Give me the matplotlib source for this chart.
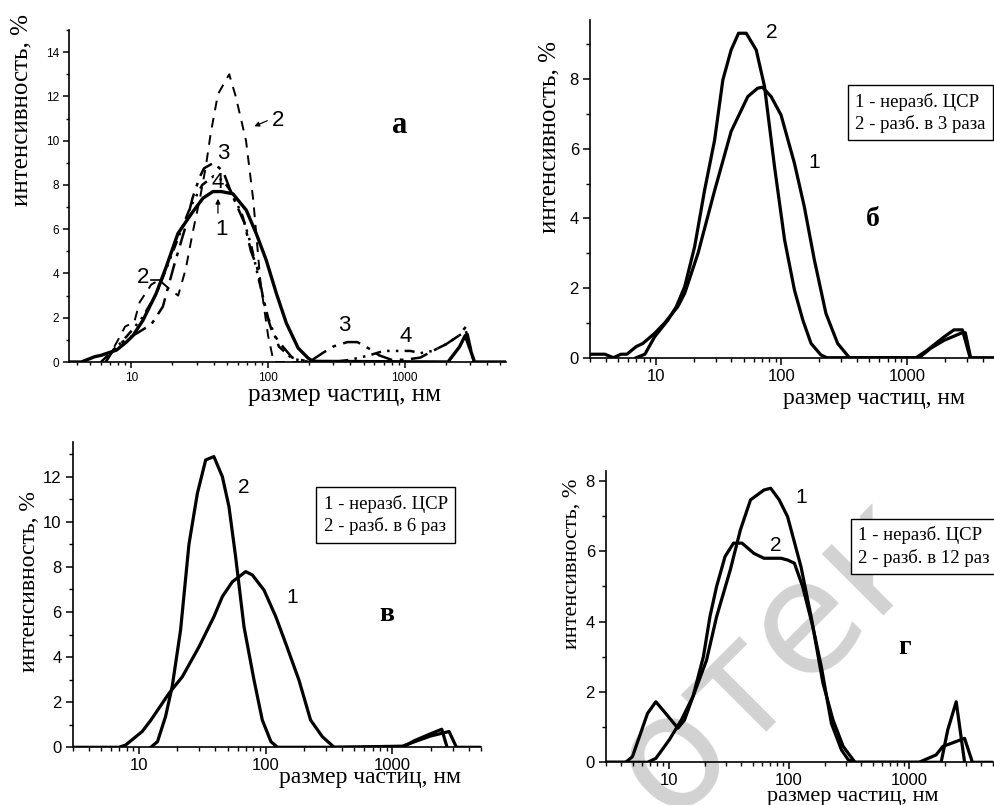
import matplotlib
matplotlib.use("Agg")
import matplotlib.pyplot as plt
from matplotlib.ticker import MultipleLocator, LogLocator, FuncFormatter, NullFormatter

# ---------------- data ----------------
# panel a
a1_x = [3.5, 4.3, 5.4, 6.0, 7.8, 9.2, 10.3, 12.2, 15.2, 18, 21.9, 27.5, 33.4, 39.5, 45.5, 55.3, 69.3, 82, 97,
        115, 136, 166, 196, 213, 2070, 2510, 2770, 3240, 5500]
a1_y = [0, 0, 0.24, 0.3, 0.54, 0.9, 1.2, 1.9, 3.1, 4.3, 5.8, 6.7, 7.4, 7.7, 7.7, 7.6, 6.86, 5.8, 4.6,
        3.1, 1.76, 0.63, 0.18, 0.03, 0, 0.68, 1.2, 0, 0]
a2_x = [6.5, 8, 9, 10.5, 11.5, 14, 16, 19, 22, 25, 28, 32, 35, 38, 43, 52, 58, 69, 78, 88, 100, 110, 200]
a2_y = [0, 1.0, 1.6, 1.8, 2.7, 3.5, 3.7, 3.3, 3.0, 4.2, 5.8, 7.5, 8.8, 10.3, 12.1, 13.0, 12.0, 10.0, 7.3, 3.6,
        1.2, 0, 0]
a3_x = [6.5, 7.5, 9, 11, 14, 17, 20.4, 24.6, 28, 31.6, 34, 40, 47, 55, 67, 75, 83, 97, 108, 128, 150, 200,
        250, 300, 380, 450, 550, 650, 800, 1000, 1300, 1600, 2000, 2500, 2800, 3200]
a3_y = [0, 0.6, 1.0, 1.3, 1.7, 2.5, 4.3, 6.0, 7.4, 8.35, 8.75, 9.0, 8.6, 7.5, 6.3, 5.0, 4.3, 2.2, 1.3, 0.7,
        0.2, 0, 0.4, 0.7, 0.9, 0.9, 0.6, 0.3, 0.1, 0.1, 0.2, 0.5, 0.8, 1.2, 1.6, 0]
a4_x = [6, 7, 8.5, 10, 12, 15, 18, 22, 27, 33, 40, 47, 55, 65, 75, 85, 100, 120, 150, 200, 300, 400, 550,
        700, 900, 1100, 1300, 1600, 2000, 2500, 2800, 3200]
a4_y = [0, 0.4, 0.9, 1.4, 2.0, 3.0, 4.2, 5.6, 7.0, 8.0, 8.4, 8.2, 7.6, 6.6, 5.3, 3.8, 2.0, 0.7, 0.15, 0, 0,
        0.1, 0.3, 0.5, 0.5, 0.5, 0.4, 0.5, 0.8, 1.2, 1.4, 0]

# panel b (б)
b1_x = [3, 3.94, 4.6, 5.3, 5.9, 7.0, 7.9, 9.8, 11.8, 15, 17, 21.7, 29.4, 39.8, 54, 64.6, 70.7, 82.8, 99.3,
        127, 152, 183, 226, 280, 347, 1245, 1540, 1970, 2670, 2900, 3200, 5000]
b1_y = [0.1, 0.1, 0, 0.1, 0.1, 0.32, 0.41, 0.7, 1.0, 1.47, 1.85, 3.0, 4.8, 6.5, 7.5, 7.74, 7.77, 7.5, 6.97,
        5.58, 4.34, 2.8, 1.27, 0.41, 0, 0, 0.27, 0.5, 0.7, 0.72, 0, 0]
b2_x = [7, 8.2, 9.8, 12.5, 14.6, 17, 20.4, 24.5, 29.4, 34.2, 39.8, 45.6, 52.5, 63, 73.3, 88, 106, 127, 148,
        172, 206, 230, 1180, 1450, 1970, 2360, 2750, 3170]
b2_y = [0, 0.1, 0.6, 1.08, 1.47, 2.04, 3.19, 4.82, 6.25, 7.98, 8.84, 9.32, 9.32, 8.84, 7.8, 5.5, 3.38, 1.94,
        1.08, 0.41, 0.08, 0, 0, 0.22, 0.6, 0.8, 0.8, 0]

# panel c (в)
c1_x = [3, 6.95, 7.85, 10.6, 12.4, 17.3, 22, 29.8, 39.1, 45.5, 54.6, 69.5, 78.5, 97, 120, 144, 183, 226, 280,
        347, 1200, 1500, 2000, 2800, 3200, 5000]
c1_y = [0, 0, 0.1, 0.7, 1.2, 2.4, 3.13, 4.46, 5.8, 6.68, 7.34, 7.79, 7.64, 6.97, 5.8, 4.6, 2.98, 1.21, 0.47,
        0, 0.05, 0.25, 0.5, 0.7, 0, 0]
c2_x = [12.4, 14, 16.2, 18.3, 21.3, 24.8, 28.9, 33.6, 39, 45.5, 51.3, 57.9, 67.4, 80.9, 94, 110, 124, 1200,
        1500, 2000, 2450, 2700]
c2_y = [0, 0.25, 1.36, 2.7, 5.2, 9.0, 11.26, 12.74, 12.89, 12.0, 10.67, 8.45, 5.35, 2.98, 1.21, 0.25, 0, 0,
        0.3, 0.6, 0.8, 0]

# panel d (г)
d1_x = [3, 6.65, 7.8, 10.1, 12.7, 15.9, 20.6, 25, 32.5, 39.4, 47.9, 62, 70.5, 83, 97.5, 126, 153, 192, 233,
        283, 355, 1210, 1680, 1910, 2900, 3370, 5000]
d1_y = [0, 0, 0.11, 0.64, 1.2, 1.87, 2.9, 4.14, 5.47, 6.6, 7.46, 7.74, 7.79, 7.46, 6.98, 5.56, 4.14, 2.25,
        1.2, 0.45, 0, 0, 0.21, 0.45, 0.68, 0, 0]
d2_x = [3, 4.37, 4.98, 6.65, 7.8, 8.9, 11.9, 13.5, 15.9, 19.4, 22, 25, 29.4, 34.6, 40.7, 51, 62, 85.7, 97.5,
        111, 130, 158, 186, 226, 274, 312, 355, 1850, 2100, 2470, 2900]
d2_y = [0, 0, 0.16, 1.39, 1.72, 1.49, 0.97, 1.2, 1.87, 3.0, 4.14, 5.0, 5.85, 6.23, 6.23, 5.94, 5.8, 5.8, 5.75,
        5.66, 5.0, 3.86, 2.72, 1.1, 0.35, 0.07, 0, 0, 0.92, 1.72, 0]

xlabel = "размер частиц, нм"
ylabel = "интенсивность, %"
legend_b = "1 - неразб. ЦСР\n2 - разб. в 3 раза"
legend_c = "1 - неразб. ЦСР\n2 - разб. в 6 раз"
legend_d = "1 - неразб. ЦСР\n2 - разб. в 12 раз"
watermark = "отек"

SERIF = "Liberation Serif"
SANS = "Liberation Sans"

W, H = 995, 805
fig = plt.figure(figsize=(W / 100, H / 100), dpi=100)


def rect(l, r, b, t):
    return [l / W, (H - b) / H, (r - l) / W, (b - t) / H]


def style(ax, xlim, ymax, fs, majlen=5, minlen=3):
    ax.set_facecolor("none")
    ax.set_xscale("log")
    ax.set_xlim(*xlim)
    ax.set_ylim(0, ymax)
    for s in ("top", "right"):
        ax.spines[s].set_visible(False)
    for s in ("left", "bottom"):
        ax.spines[s].set_linewidth(1.2)
    ax.yaxis.set_major_locator(MultipleLocator(2))
    ax.yaxis.set_minor_locator(MultipleLocator(1))
    ax.xaxis.set_major_locator(LogLocator(base=10, numticks=10))
    ax.xaxis.set_minor_locator(LogLocator(base=10, subs=range(2, 10), numticks=20))
    ax.xaxis.set_major_formatter(FuncFormatter(lambda v, p: f"{v:g}"))
    ax.xaxis.set_minor_formatter(NullFormatter())
    ax.tick_params(which="major", direction="out", length=majlen, width=1.1, labelsize=fs, pad=3)
    ax.tick_params(which="minor", direction="out", length=minlen, width=1.0)
    for lab in ax.get_xticklabels() + ax.get_yticklabels():
        lab.set_family(SANS)


def labels(ax, xl_pos, yl_pos, xfs, yfs):
    ax.text(xl_pos[0], xl_pos[1], xlabel, transform=ax.transAxes, ha="center", va="center",
            family=SERIF, fontsize=xfs)
    ax.text(yl_pos[0], yl_pos[1], ylabel, transform=ax.transAxes, ha="center", va="center",
            rotation=90, family=SERIF, fontsize=yfs)


# watermark (light grey, behind the plots)
fig.text(0.672, -0.02, watermark, fontsize=114, color="#d2d2d2", rotation=45,
         rotation_mode="anchor", ha="left", va="baseline", family="DejaVu Sans", zorder=-1)

# ---------- panel a ----------
axa = fig.add_axes(rect(69, 506, 362, 30))
style(axa, (3.5, 5500), 15, 8.5, majlen=4, minlen=2.5)
axa.plot(a2_x, a2_y, color="black", lw=1.4, ls=(0, (5, 4)))
axa.plot(a3_x, a3_y, color="black", lw=1.8, ls=(0, (7, 3, 1.5, 3)))
axa.plot(a4_x, a4_y, color="black", lw=1.8, ls=(0, (4, 2.5, 1, 2.5, 1, 2.5)))
axa.plot(a1_x, a1_y, color="black", lw=2.4)
tk = dict(family=SANS, fontsize=16, ha="center", va="center")
axa.text(118, 10.9, "2", **tk)
axa.annotate("", xy=(76, 10.6), xytext=(103, 10.95),
             arrowprops=dict(arrowstyle="-|>", lw=0.9, color="black", mutation_scale=7))
axa.text(47, 9.4, "3", **tk)
axa.text(43, 8.1, "4", **tk)
axa.text(45.6, 6.0, "1", **tk)
axa.annotate("", xy=(43, 7.5), xytext=(43, 6.6),
             arrowprops=dict(arrowstyle="-|>", lw=0.9, color="black", mutation_scale=7))
axa.text(12.2, 3.8, "2", **tk)
axa.plot([14.0, 16.5], [3.72, 3.72], color="black", lw=1.2)
axa.text(363, 1.67, "3", **tk)
axa.text(1020, 1.13, "4", **tk)
axa.text(920, 10.7, "а", family=SERIF, fontsize=22, fontweight="bold", ha="center", va="center")
labels(axa, (0.63, -0.1), (-0.108, 0.76), 18, 18)

# ---------- panel б ----------
axb = fig.add_axes(rect(590, 995, 357.7, 20))
style(axb, (3, 5000), 9.7, 12, majlen=5, minlen=3)
axb.plot(b1_x, b1_y, color="black", lw=2.3)
axb.plot(b2_x, b2_y, color="black", lw=2.3)
tk2 = dict(family=SANS, fontsize=15, ha="center", va="center")
axb.text(83, 9.33, "2", **tk2)
axb.text(181, 5.62, "1", **tk2)
axb.text(533, 3.96, "б", family=SERIF, fontsize=20, fontweight="bold", ha="center", va="center")
axb.text(0.655, 0.725, legend_b, transform=axb.transAxes, ha="left", va="center", family=SERIF,
         fontsize=13.5, linespacing=1.3,
         bbox=dict(boxstyle="square,pad=0.4", fc="white", ec="black", lw=1.0))
labels(axb, (0.702, -0.12), (-0.099, 0.654), 17, 18)

# ---------- panel в ----------
axc = fig.add_axes(rect(72.7, 481, 747.3, 441.7))
style(axc, (3, 5000), 13.55, 12, majlen=5, minlen=3)
axc.plot(c1_x, c1_y, color="black", lw=2.3)
axc.plot(c2_x, c2_y, color="black", lw=2.3)
axc.text(67.6, 11.54, "2", **tk2)
axc.text(162, 6.62, "1", **tk2)
axc.text(910, 5.87, "в", family=SERIF, fontsize=20, fontweight="bold", ha="center", va="center")
axc.text(0.615, 0.76, legend_c, transform=axc.transAxes, ha="left", va="center", family=SERIF,
         fontsize=13.5, linespacing=1.3,
         bbox=dict(boxstyle="square,pad=0.4", fc="white", ec="black", lw=1.0))
labels(axc, (0.727, -0.1), (-0.105, 0.541), 17, 17)

# ---------- panel г ----------
axd = fig.add_axes(rect(606, 993, 762.3, 471))
style(axd, (3, 5000), 8.28, 12, majlen=5, minlen=3)
axd.plot(d1_x, d1_y, color="black", lw=2.3)
axd.plot(d2_x, d2_y, color="black", lw=2.3)
axd.text(126, 7.54, "1", **tk2)
axd.text(77, 6.17, "2", **tk2)
axd.text(912, 3.25, "г", family=SERIF, fontsize=20, fontweight="bold", ha="center", va="center")
axd.text(0.652, 0.741, legend_d, transform=axd.transAxes, ha="left", va="center", family=SERIF,
         fontsize=13.5, linespacing=1.3,
         bbox=dict(boxstyle="square,pad=0.4", fc="white", ec="black", lw=1.0))
labels(axd, (0.638, -0.119), (-0.088, 0.681), 16, 16)

fig.savefig("out.png", dpi=100)
